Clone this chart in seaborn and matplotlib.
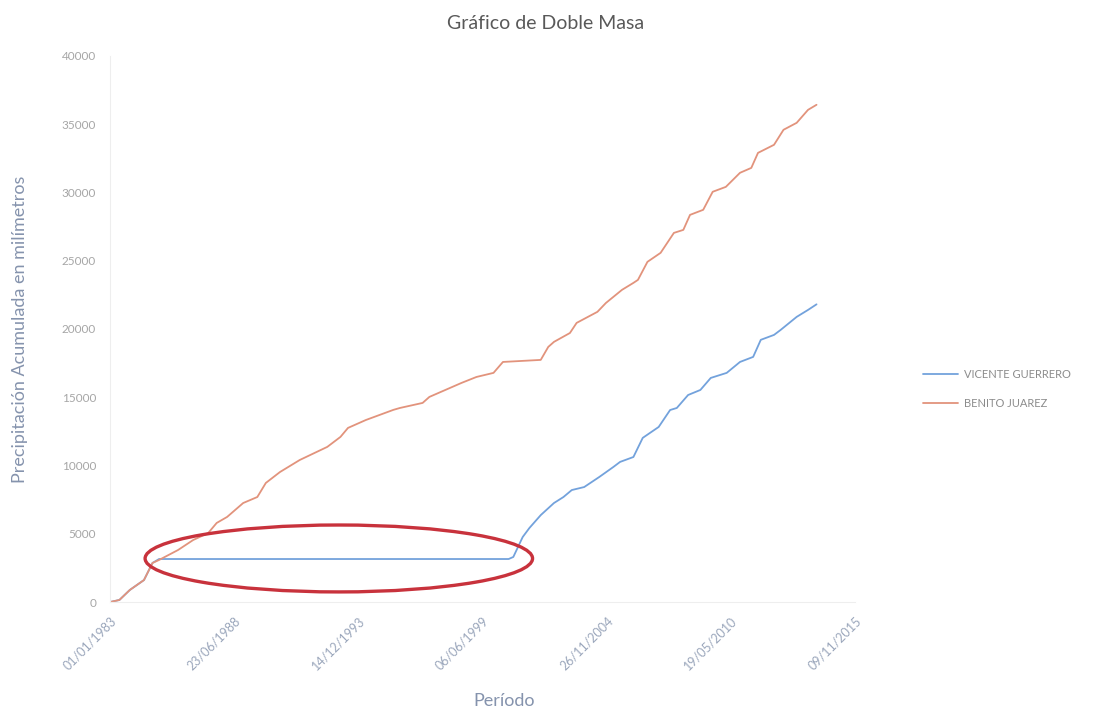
import matplotlib
matplotlib.use("Agg")
import matplotlib.pyplot as plt
import matplotlib.dates as mdates
from matplotlib.patches import Ellipse
import pandas as pd
import seaborn as sns

# Datos (precipitacion acumulada, mm)
benito_fechas = ["1983-01-01", "1983-06-01", "1983-11-15", "1984-07-01", "1984-11-15",
                 "1985-03-01", "1986-01-01", "1986-09-01", "1987-05-01", "1987-09-15",
                 "1988-03-01", "1988-11-15", "1989-07-01", "1989-11-15", "1990-07-01",
                 "1991-05-15", "1992-08-01", "1993-03-01", "1993-07-01", "1994-04-15",
                 "1995-07-01", "1995-10-15", "1996-10-15", "1997-02-01", "1998-07-01",
                 "1999-03-01", "1999-12-01", "2000-05-01", "2001-12-31", "2002-05-01",
                 "2002-08-01", "2003-04-15", "2003-08-01", "2004-07-01", "2004-11-15",
                 "2005-08-01", "2006-02-01", "2006-04-15", "2006-09-15", "2007-04-15",
                 "2007-11-15", "2008-04-15", "2008-08-01", "2009-03-01", "2009-08-01",
                 "2010-03-01", "2010-10-15", "2011-04-15", "2011-08-01", "2012-04-15",
                 "2012-09-15", "2013-04-15", "2013-10-15", "2014-03-01"]
benito_valores = [0, 150, 880, 1610, 2860,
                  3080, 3810, 4540, 5050, 5790,
                  6230, 7250, 7690, 8720, 9520,
                  10400, 11360, 12090, 12750, 13330,
                  14070, 14210, 14580, 15020, 16040,
                  16480, 16780, 17580, 17730, 18680,
                  19050, 19700, 20440, 21250, 21900,
                  22860, 23370, 23590, 24910, 25570,
                  27030, 27250, 28350, 28720, 30040,
                  30400, 31430, 31790, 32890, 33480,
                  34580, 35090, 36040, 36410]

vicente_fechas = ["1983-01-01", "1983-06-01", "1983-11-15", "1984-07-01", "1984-11-15",
                  "1985-03-01", "2000-08-01", "2000-10-15", "2001-03-15", "2001-07-01",
                  "2002-01-01", "2002-08-01", "2003-01-01", "2003-05-15", "2003-12-01",
                  "2004-08-01", "2005-03-15", "2005-07-01", "2006-02-01", "2006-07-01",
                  "2007-03-15", "2007-09-15", "2008-01-01", "2008-07-01", "2009-01-15",
                  "2009-07-01", "2010-03-15", "2010-10-15", "2011-05-15", "2011-09-15",
                  "2012-04-15", "2012-08-01", "2013-04-15", "2013-10-15", "2014-03-01"]
vicente_valores = [0, 150, 880, 1610, 2860,
                   3150, 3150, 3300, 4760, 5420,
                   6370, 7250, 7690, 8200, 8420,
                   9160, 9890, 10260, 10620, 12020,
                   12820, 14060, 14210, 15160, 15530,
                   16410, 16780, 17580, 17950, 19200,
                   19560, 19930, 20880, 21390, 21800]

series = ["VICENTE GUERRERO", "BENITO JUAREZ"]
colores = ["#73a2dc", "#e2937c"]

df = pd.concat([
    pd.DataFrame({"Fecha": pd.to_datetime(vicente_fechas), "Valor": vicente_valores, "Estacion": series[0]}),
    pd.DataFrame({"Fecha": pd.to_datetime(benito_fechas), "Valor": benito_valores, "Estacion": series[1]}),
])

sns.set_theme(style="white")
plt.rcParams["font.family"] = ["Lato", "DejaVu Sans"]

fig = plt.figure(figsize=(10.97, 7.15), dpi=100)
ax = fig.add_axes([0.1003, 0.158, 0.679, 0.764])

sns.lineplot(data=df, x="Fecha", y="Valor", hue="Estacion", hue_order=series,
             palette=colores, linewidth=1.3, ax=ax, estimator=None, sort=False)

inicio = pd.Timestamp("1983-01-01")
ticks = [inicio + pd.Timedelta(days=2000 * i) for i in range(7)]
ax.set_xlim(ticks[0], ticks[-1])
ax.set_xticks(ticks)
ax.xaxis.set_major_formatter(mdates.DateFormatter("%d/%m/%Y"))
plt.setp(ax.get_xticklabels(), rotation=45, ha="right", rotation_mode="anchor")
ax.set_ylim(0, 40000)
ax.set_yticks(range(0, 40001, 5000))
ax.tick_params(axis="x", colors="#9aa6bb", labelsize=9, length=0, pad=9)
ax.tick_params(axis="y", colors="#a6a6a6", labelsize=8.5, length=0, pad=10)

for lado in ["top", "right"]:
    ax.spines[lado].set_visible(False)
for lado in ["left", "bottom"]:
    ax.spines[lado].set_color("#eeeeee")
    ax.spines[lado].set_linewidth(0.8)

ax.set_xlabel("")
ax.set_ylabel("Precipitación Acumulada en milímetros", color="#8593ad", fontsize=13, labelpad=24)
fig.text(0.46, 0.008, "Período", color="#8593ad", fontsize=13, ha="center", va="bottom")
fig.text(0.497, 0.967, "Gráfico de Doble Masa", color="#595959", fontsize=14, ha="center", va="center")

# elipse roja que marca el periodo sin registros
elipse_centro = inicio + pd.Timedelta(days=3686)
elipse = Ellipse((mdates.date2num(elipse_centro), 3190), width=6242, height=4900,
                 fill=False, edgecolor="#c8323c", linewidth=2.4, zorder=5)
ax.add_patch(elipse)

ax.legend(loc="center left", bbox_to_anchor=(0.832, 0.456), bbox_transform=fig.transFigure,
          frameon=False, fontsize=8, labelcolor="#8c8c8c", handlelength=3.2,
          handletextpad=0.5, labelspacing=1.6)

fig.savefig("out.png", dpi=100, facecolor="white")
